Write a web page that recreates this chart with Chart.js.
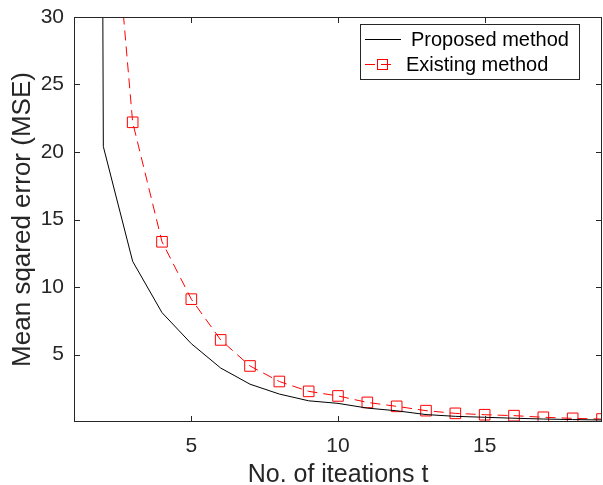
<!DOCTYPE html>
<html>
<head>
<meta charset="utf-8">
<script src="https://cdn.jsdelivr.net/npm/chart.js@4/dist/chart.umd.min.js"></script>
<style>
  html, body { margin: 0; padding: 0; background: #fff; }
  #wrap { width: 603px; height: 485px; }
</style>
</head>
<body>
<div id="wrap"><canvas id="mse-chart" width="603" height="485"></canvas></div>
<script>
// datos
const iterations  = [1, 2, 3, 4, 5, 6, 7, 8, 9, 10, 11, 12, 13, 14, 15, 16, 17, 18, 19];
const proposedMSE = [600, 20.4, 11.9, 8.1, 5.8, 4.0, 2.8, 2.07, 1.57, 1.38, 1.03, 0.83, 0.55, 0.42, 0.35, 0.28, 0.22, 0.18, 0.15];
const existingMSE = [100, 47.4, 22.2, 13.35, 9.1, 6.08, 4.15, 3.0, 2.27, 1.93, 1.45, 1.16, 0.84, 0.64, 0.54, 0.47, 0.35, 0.27, 0.22];
const xTicks = [5, 10, 15];
const yTicks = [5, 10, 15, 20, 25, 30];
const seriesNames = ['Proposed method', 'Existing method'];

const FONT = 'Liberation Sans, Arial, Helvetica, sans-serif';
const AXIS_COLOR = '#262626';

// caja del eje y marcas hacia adentro (estilo MATLAB)
const boxPlugin = {
  id: 'boxTicks',
  afterDraw(chart) {
    const { ctx, chartArea: a, scales: { x, y } } = chart;
    ctx.save();
    ctx.strokeStyle = AXIS_COLOR;
    ctx.lineWidth = 1;
    ctx.strokeRect(a.left + 0.5, a.top + 0.5, a.right - a.left - 1, a.bottom - a.top - 1);
    ctx.beginPath();
    xTicks.forEach(v => {
      const px = Math.round(x.getPixelForValue(v)) + 0.5;
      ctx.moveTo(px, a.bottom); ctx.lineTo(px, a.bottom - 6);
      ctx.moveTo(px, a.top); ctx.lineTo(px, a.top + 6);
    });
    yTicks.forEach(v => {
      const py = Math.round(y.getPixelForValue(v)) + 0.5;
      ctx.moveTo(a.left, py); ctx.lineTo(a.left + 6, py);
      ctx.moveTo(a.right, py); ctx.lineTo(a.right - 6, py);
    });
    ctx.stroke();

    // leyenda
    const lx = 360, ly = 24, lw = 219, lh = 55;
    ctx.fillStyle = '#fff';
    ctx.fillRect(lx, ly, lw, lh);
    ctx.strokeRect(lx + 0.5, ly + 0.5, lw, lh);
    ctx.font = '20px ' + FONT;
    ctx.fillStyle = '#000';
    ctx.textBaseline = 'middle';
    ctx.textAlign = 'left';

    ctx.strokeStyle = '#000';
    ctx.beginPath();
    ctx.moveTo(365, 39.5); ctx.lineTo(401, 39.5);
    ctx.stroke();
    ctx.fillText(seriesNames[0], 411, 40);

    ctx.strokeStyle = '#ff0000';
    ctx.setLineDash([10, 6]);
    ctx.beginPath();
    ctx.moveTo(365, 64.5); ctx.lineTo(396, 64.5);
    ctx.stroke();
    ctx.setLineDash([]);
    ctx.strokeRect(377.5, 59.5, 10, 10);
    ctx.fillText(seriesNames[1], 406, 65);
    ctx.restore();
  }
};

new Chart(document.getElementById('mse-chart'), {
  type: 'line',
  data: {
    datasets: [{
      label: seriesNames[0],
      data: iterations.map((t, i) => ({ x: t, y: proposedMSE[i] })),
      borderColor: '#000000',
      borderWidth: 1,
      pointRadius: 0,
      tension: 0
    }, {
      label: seriesNames[1],
      data: iterations.map((t, i) => ({ x: t, y: existingMSE[i] })),
      borderColor: '#ff0000',
      borderWidth: 1,
      borderDash: [10, 6],
      pointStyle: 'rect',
      pointRadius: 7.5,
      pointBorderWidth: 1,
      pointBorderColor: '#ff0000',
      pointBackgroundColor: 'rgba(0,0,0,0)',
      tension: 0
    }]
  },
  options: {
    responsive: false,
    animation: false,
    layout: { autoPadding: false, padding: { top: 17, right: 1, left: 0, bottom: 0 } },
    plugins: { legend: { display: false }, tooltip: { enabled: false } },
    scales: {
      x: {
        type: 'linear',
        min: 1, max: 19,
        afterBuildTicks: s => { s.ticks = xTicks.map(v => ({ value: v })); },
        afterFit: s => { s.height = 63; s.paddingLeft = 0; s.paddingRight = 0; },
        grid: { display: false, drawTicks: false },
        border: { display: false },
        ticks: { color: AXIS_COLOR, font: { family: FONT, size: 21 }, padding: 12, maxRotation: 0 },
        title: {
          display: true, text: 'No. of iteations t', color: AXIS_COLOR,
          font: { family: FONT, size: 25, lineHeight: 0.76 }, padding: { top: 0, bottom: 0 }
        }
      },
      y: {
        min: 0, max: 30,
        afterBuildTicks: s => { s.ticks = yTicks.map(v => ({ value: v })); },
        afterFit: s => { s.width = 74; s.paddingTop = 0; s.paddingBottom = 0; },
        grid: { display: false, drawTicks: false },
        border: { display: false },
        ticks: { color: AXIS_COLOR, font: { family: FONT, size: 21 }, padding: 10 },
        title: {
          display: true, text: 'Mean sqared error (MSE)', color: AXIS_COLOR,
          font: { family: FONT, size: 26, lineHeight: 0.76 }, padding: { top: 13, bottom: 0 }
        }
      }
    }
  },
  plugins: [boxPlugin]
});
</script>
</body>
</html>
